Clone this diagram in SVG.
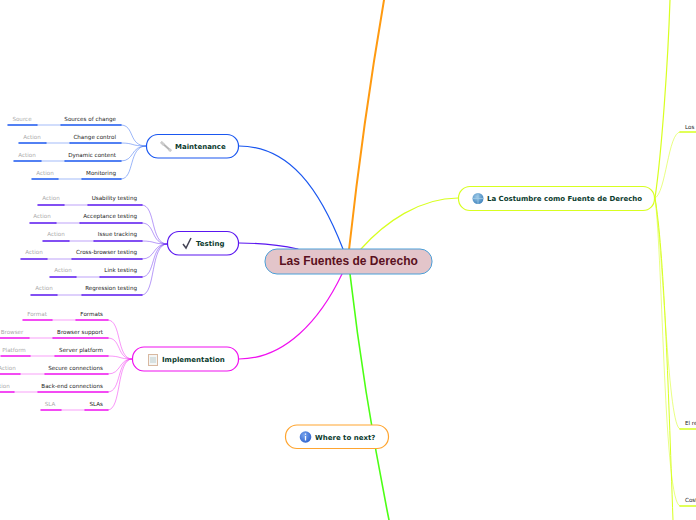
<svg xmlns="http://www.w3.org/2000/svg" width="696" height="520" viewBox="0 0 696 520">
<defs>
<radialGradient id="gl" cx=".4" cy=".35" r=".7"><stop offset="0" stop-color="#9cc8e6"/><stop offset="1" stop-color="#3f83bd"/></radialGradient>
<radialGradient id="inf" cx=".4" cy=".35" r=".7"><stop offset="0" stop-color="#7aa6ee"/><stop offset="1" stop-color="#2e62cc"/></radialGradient>
</defs>
<style>
text{font-family:"DejaVu Sans","Liberation Sans",sans-serif}
.c{fill:none;stroke-linecap:round}
.t{font-size:5.6px;fill:#222;text-anchor:end}
.a{font-size:5.6px;fill:#aaa;text-anchor:middle}
.n{font-size:7px;font-weight:bold;fill:#0b3b2e}
.box{fill:#fff;stroke-width:1.2}
.bl{stroke:#1a57f0}.pu{stroke:#5a16f0}.ma{stroke:#f010f0}.ye{stroke:#d8ff20}
.u{stroke-width:1.5;fill:none}.l{stroke-width:1.2;fill:none;opacity:.4}.k{stroke-width:.8;fill:none;opacity:.55}
</style>
<g id="connectors" class="c">
<path d="M349 250C360 150 372 70 384 0" stroke="#ff9a10" stroke-width="2" fill="none"/>
<path d="M343 249C320 190 290 146 239 146" stroke="#1a57f0" stroke-width="1.2" fill="none"/>
<path d="M298 249C280 245 260 243 239 243" stroke="#5a16f0" stroke-width="1.1" fill="none"/>
<path d="M361 249C385 222 420 198 458 198" stroke="#d8ff20" stroke-width="1.2" fill="none"/>
<path d="M342 274C320 320 285 359 239 359" stroke="#f010f0" stroke-width="1.2" fill="none"/>
<path d="M350 274C360 360 375 450 389 520" stroke="#4cff14" stroke-width="1.6" fill="none"/>
<path d="M655 198C662 150 668 60 670 0" stroke="#d8ff20" stroke-width="1.2" fill="none"/>
<path d="M655 198C666 194 668 132 680 132" stroke="#d8ff20" stroke-width=".8" fill="none" opacity=".7"/>
<path d="M655 198C664 260 668 429 680 429" stroke="#d8ff20" stroke-width=".8" fill="none" opacity=".7"/>
<path d="M655 198C663 260 664 506 680 506" stroke="#d8ff20" stroke-width=".8" fill="none" opacity=".7"/>
<path d="M655 198C664 250 668 380 673 520" stroke="#d8ff20" stroke-width="1" fill="none"/>
<path d="M680 132H696M680 429H696M680 506H696" stroke="#d8ff20" stroke-width="1.5" fill="none"/>
<g class="bl">
<path class="k" d="M121 125C135 125 128 146 146 146M121 143C135 143 130 146 146 146M121 161C135 161 130 146 146 146M121 179C135 179 128 146 146 146"/>
<path class="u" d="M8 125H37M61 125H121M19 143H46M70 143H121M14 161H41M65 161H121M32 179H58M82 179H121"/>
<path class="l" d="M37 125H61M46 143H70M41 161H65M58 179H82"/>
</g>
<g class="pu">
<path class="k" d="M142 205C156 205 150 244 167 244M142 223C156 223 150 244 167 244M142 241C156 241 152 244 167 244M142 259C156 259 152 244 167 244M142 277C156 277 150 244 167 244M142 295C156 295 150 244 167 244"/>
<path class="u" d="M38 205H64M88 205H142M30 223H56M80 223H142M43 241H69M94 241H142M21 259H47M72 259H142M50 277H76M100 277H142M31 295H57M82 295H142"/>
<path class="l" d="M64 205H88M56 223H80M69 241H94M47 259H72M76 277H100M57 295H82"/>
</g>
<g class="ma">
<path class="k" d="M108 320C122 320 116 359 132 359M108 338C122 338 116 359 132 359M108 356C122 356 118 359 132 359M108 374C122 374 118 359 132 359M108 392C122 392 116 359 132 359M108 410C122 410 116 359 132 359"/>
<path class="u" d="M23 320H52M76 320H108M0 338H29M53 338H108M1 356H30M55 356H108M-9 374H20M45 374H108M-15 392H14M38 392H108M41 410H61M85 410H108"/>
<path class="l" d="M52 320H76M29 338H53M30 356H55M20 374H45M14 392H38M61 410H85"/>
</g>
</g>
<g id="leaf-labels">
<text class="t" x="116" y="121">Sources of change</text><text class="a" x="22" y="121">Source</text>
<text class="t" x="116" y="139">Change control</text><text class="a" x="32" y="139">Action</text>
<text class="t" x="116" y="157">Dynamic content</text><text class="a" x="27" y="157">Action</text>
<text class="t" x="116" y="175">Monitoring</text><text class="a" x="45" y="175">Action</text>
<text class="t" x="137" y="200">Usability testing</text><text class="a" x="51" y="200">Action</text>
<text class="t" x="137" y="218">Acceptance testing</text><text class="a" x="42" y="218">Action</text>
<text class="t" x="137" y="236">Issue tracking</text><text class="a" x="56" y="236">Action</text>
<text class="t" x="137" y="254">Cross-browser testing</text><text class="a" x="34" y="254">Action</text>
<text class="t" x="137" y="272">Link testing</text><text class="a" x="63" y="272">Action</text>
<text class="t" x="137" y="290">Regression testing</text><text class="a" x="44" y="290">Action</text>
<text class="t" x="103" y="316">Formats</text><text class="a" x="37" y="316">Format</text>
<text class="t" x="103" y="334">Browser support</text><text class="a" x="12" y="334">Browser</text>
<text class="t" x="103" y="352">Server platform</text><text class="a" x="14" y="352">Platform</text>
<text class="t" x="103" y="370">Secure connections</text><text class="a" x="7" y="370">Action</text>
<text class="t" x="103" y="388">Back-end connections</text><text class="a" x="1" y="388">Action</text>
<text class="t" x="103" y="406">SLAs</text><text class="a" x="50" y="406">SLA</text>
<text class="t" x="685" y="129" style="text-anchor:start">Los</text>
<text class="t" x="685" y="425" style="text-anchor:start">El re</text>
<text class="t" x="685" y="502" style="text-anchor:start">Cost</text>
</g>
<g id="node-maintenance">
<rect class="box" x="146.500" y="134.500" width="92" height="23.500" rx="11.500" stroke="#1a57f0"/>
<path d="M161 142L171 151" stroke="#b5b5b5" stroke-width="2"/><path d="M161 142L164 145" stroke="#ccc" stroke-width="2.500"/><circle cx="170" cy="150" r="1.600" fill="#ccc"/>
<text class="n" x="175" y="149">Maintenance</text>
</g>
<g id="node-testing">
<rect class="box" x="167.500" y="231.500" width="71" height="23.500" rx="11.500" stroke="#5a16f0"/>
<path d="M183 244L186 248L191 238" fill="none" stroke="#445" stroke-width="1.500"/>
<text class="n" x="196" y="246">Testing</text>
</g>
<g id="node-implementation">
<rect class="box" x="132.500" y="347" width="106" height="24" rx="11.500" stroke="#f010f0"/>
<rect x="148.500" y="354.500" width="9" height="11" fill="#f4f6f6" stroke="#d8b8a0"/>
<path d="M150 358H156M150 360H156M150 362H156" stroke="#bcc"/>
<text class="n" x="162" y="362">Implementation</text>
</g>
<g id="node-costumbre">
<rect class="box" x="458.500" y="186.500" width="196" height="24" rx="11.500" stroke="#d8ff20"/>
<circle cx="478" cy="198.500" r="5.500" fill="url(#gl)"/>
<path d="M472.500 198.500H483.500M478 193V204" stroke="#a8d0e8" stroke-width=".7"/>
<text class="n" x="487" y="201">La Costumbre como Fuente de Derecho</text>
</g>
<g id="node-where">
<rect class="box" x="285.500" y="425" width="103" height="23.500" rx="11.500" stroke="#ffa530"/>
<circle cx="305.500" cy="437" r="5.800" fill="url(#inf)"/>
<path d="M305.500 436V440.500M305.500 433.500V434.800" stroke="#fff" stroke-width="1.300"/>
<text class="n" x="315" y="440">Where to next?</text>
</g>
<g id="node-root">
<rect x="265" y="249" width="167" height="25" rx="12" fill="#e3c5ca" stroke="#4a9fd8" stroke-width="1"/>
<text x="348.500" y="265" text-anchor="middle" style="font-family:'Liberation Sans',Arial,sans-serif;font-size:12px;font-weight:bold;fill:#5a1020">Las Fuentes de Derecho</text>
</g>
</svg>
